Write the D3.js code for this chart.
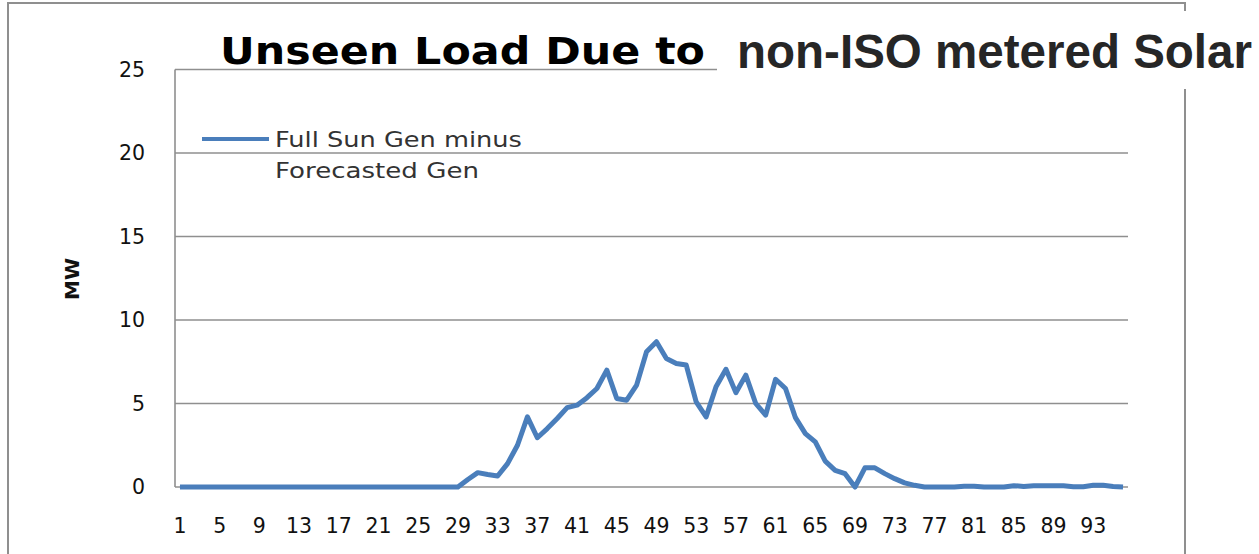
<!DOCTYPE html>
<html>
<head>
<meta charset="utf-8">
<script src="https://cdn.jsdelivr.net/npm/d3@7"></script>
<style>
  body { margin: 0; background: #fff; }
  svg { display: block; }
</style>
</head>
<body>
<div id="chart"></div>
<script>
// interval numbers 1..96 (15 minute steps)
var intervals = d3.range(1, 97)
// MW, full sun generation minus forecasted generation
var unseenMW = [
  0, 0, 0, 0, 0, 0, 0, 0, 0, 0,
  0, 0, 0, 0, 0, 0, 0, 0, 0, 0,
  0, 0, 0, 0, 0, 0, 0, 0, 0, 0.45,
  0.86, 0.75, 0.66, 1.4, 2.5, 4.2, 2.95, 3.5, 4.1, 4.75,
  4.9, 5.35, 5.9, 7.0, 5.3, 5.2, 6.1, 8.1, 8.7, 7.7,
  7.4, 7.3, 5.1, 4.2, 6.0, 7.05, 5.65, 6.7, 5.0, 4.3,
  6.45, 5.9, 4.15, 3.2, 2.7, 1.55, 1.0, 0.8, 0, 1.15,
  1.15, 0.8, 0.5, 0.25, 0.1, 0, 0, 0, 0, 0.05,
  0.05, 0, 0, 0, 0.08, 0.03, 0.07, 0.08, 0.08, 0.07,
  0.02, 0.02, 0.1, 0.1, 0.03, 0
]
var xTickLabels = [1, 5, 9, 13, 17, 21, 25, 29, 33, 37, 41, 45, 49, 53, 57, 61, 65, 69, 73, 77, 81, 85, 89, 93]
var yTickLabels = [0, 5, 10, 15, 20, 25]
var legendLines = ["Full Sun Gen minus", "Forecasted Gen"]

var width = 1259
var height = 554
var plotLeft = 175, plotRight = 1128, plotTop = 69.5, plotBottom = 487
var gridcolor = '#8f8f8f'
var linecolor = '#4a7ebb'
var labelFont = 'DejaVu Sans'

var svg = d3.select("#chart")
  .append("svg")
  .attr("width", width)
  .attr("height", height)

// outer chart border
svg.append("rect")
  .attr("x", 8)
  .attr("y", 3)
  .attr("width", 1185 - 8)
  .attr("height", 600)
  .style("fill", "none")
  .style("stroke", gridcolor)
  .style("stroke-width", 2)

var x = d3.scaleBand()
  .domain(intervals)
  .range([plotLeft, plotRight])
  .padding(0)

var y = d3.scaleLinear()
  .domain([0, 25])
  .range([plotBottom, plotTop])

// gridlines
svg.append("g")
  .selectAll("line")
  .data(yTickLabels)
  .enter()
  .append("line")
  .attr("x1", plotLeft)
  .attr("x2", plotRight)
  .attr("y1", function (d) { return y(d) })
  .attr("y2", function (d) { return y(d) })
  .style("stroke", gridcolor)
  .style("stroke-width", 1.6)

// left axis line
svg.append("line")
  .attr("x1", plotLeft).attr("x2", plotLeft)
  .attr("y1", plotTop).attr("y2", plotBottom)
  .style("stroke", gridcolor)
  .style("stroke-width", 1.6)

// Y axis
var yAxis = svg.append("g")
  .attr("transform", "translate(" + 145 + ",0)")
  .call(d3.axisLeft(y).tickValues(yTickLabels).tickSize(0).tickPadding(0))
yAxis.select(".domain").remove()
yAxis.selectAll("text")
  .style("font-family", labelFont)
  .style("font-size", "20.5px")
  .style("fill", "#111")

// X axis
var xAxis = svg.append("g")
  .attr("transform", "translate(0," + 518 + ")")
  .call(d3.axisBottom(x).tickValues(xTickLabels).tickSize(0).tickPadding(0))
xAxis.select(".domain").remove()
xAxis.selectAll("text")
  .style("font-family", labelFont)
  .style("font-size", "20.5px")
  .style("fill", "#111")

// axis title
svg.append("text")
  .attr("transform", "translate(79,279) rotate(-90)")
  .attr("text-anchor", "middle")
  .style("font-family", labelFont)
  .style("font-weight", "bold")
  .style("font-size", "20px")
  .style("fill", "#111")
  .text("MW")

// the line
svg.append("path")
  .datum(unseenMW)
  .attr("fill", "none")
  .attr("stroke", linecolor)
  .attr("stroke-width", 5)
  .attr("stroke-linejoin", "round")
  .attr("d", d3.line()
    .x(function (d, i) { return x(intervals[i]) + x.bandwidth() / 2 })
    .y(function (d) { return y(d) })
  )

// legend
svg.append("line")
  .attr("x1", 202).attr("x2", 269)
  .attr("y1", 139).attr("y2", 139)
  .style("stroke", linecolor)
  .style("stroke-width", 4)

var legendWidths = [247, 204]
svg.append("g")
  .selectAll("text")
  .data(legendLines)
  .enter()
  .append("text")
  .attr("x", 275)
  .attr("y", function (d, i) { return 147 + i * 31 })
  .attr("textLength", function (d, i) { return legendWidths[i] })
  .attr("lengthAdjust", "spacingAndGlyphs")
  .style("font-family", labelFont)
  .style("font-size", "20.5px")
  .style("fill", "#333")
  .text(function (d) { return d })

// title, first part (chart's own title)
svg.append("text")
  .attr("x", 220)
  .attr("y", 64)
  .attr("textLength", 485)
  .attr("lengthAdjust", "spacingAndGlyphs")
  .style("font-family", labelFont)
  .style("font-weight", "bold")
  .style("font-size", "37px")
  .style("fill", "#000")
  .text("Unseen Load Due to")

// pasted-over part of the title on a white box
svg.append("rect")
  .attr("x", 717)
  .attr("y", 11)
  .attr("width", width - 717)
  .attr("height", 89 - 11)
  .style("fill", "#fff")

svg.append("text")
  .attr("x", 737)
  .attr("y", 68)
  .attr("textLength", 515)
  .attr("lengthAdjust", "spacingAndGlyphs")
  .style("font-family", "Liberation Sans")
  .style("font-weight", "bold")
  .style("font-size", "47.5px")
  .style("fill", "#262626")
  .text("non-ISO metered Solar")
</script>
</body>
</html>
